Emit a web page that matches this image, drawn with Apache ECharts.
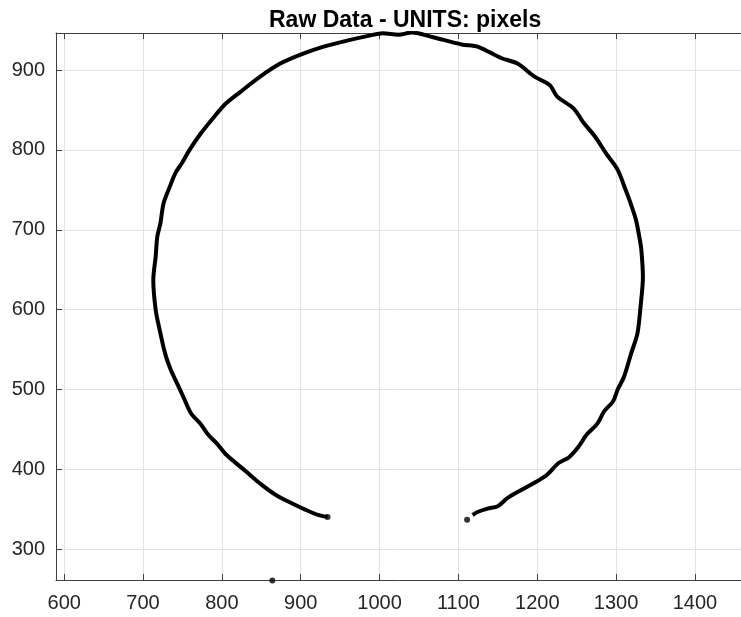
<!DOCTYPE html>
<html>
<head>
<meta charset="utf-8">
<script src="https://cdn.jsdelivr.net/npm/echarts@6/dist/echarts.min.js"></script>
<style>html,body{margin:0;padding:0;background:#fff;}#c{width:741px;height:617px;}</style>
</head>
<body>
<div id="c"></div>
<script>
const titleText = "Raw Data - UNITS: pixels";
const xRange = [589.6, 1458.4];
const yRange = [261.6, 946.3];
// traced curve (x, y) in pixels units of the original data
const curveX = [934, 922, 905, 888, 870, 849, 830, 806, 794, 783, 773, 761, 751, 743, 735, 728, 721, 716, 713, 714, 716, 718, 722, 726, 734, 741, 749, 759, 772, 789, 805, 824, 849, 874, 899, 928, 960, 987, 1004, 1024, 1041, 1068, 1104, 1125, 1154, 1175, 1196, 1216, 1225, 1246, 1258, 1273, 1287, 1302, 1312, 1317, 1325, 1330, 1332, 1334, 1331, 1327, 1319, 1310, 1302, 1296, 1285, 1276, 1263, 1252, 1240, 1227, 1212, 1196, 1179, 1162, 1150, 1137, 1125, 1118];
const curveY = [340.5, 343, 350, 358, 367, 382, 398, 418, 432, 443, 457, 470, 491, 508, 525, 545, 575, 600, 637, 650, 666, 691, 708, 733, 754, 771, 783, 800, 819, 840, 858, 873, 892, 908, 919, 929, 937, 943, 946, 944, 947, 941, 932, 929, 915, 908, 892, 881, 867, 852, 835, 817, 796, 775, 750, 737, 713, 688, 675, 641, 604, 570, 545, 516, 500, 485, 473, 457, 444, 428, 415, 408, 393, 383, 374, 364, 354, 351, 347, 343];
// isolated points
const dotX = [934, 1111, 864];
const dotY = [340.5, 337, 261];

const curve = curveX.map((x, i) => [x, curveY[i]]);
const dots = dotX.map((x, i) => [x, dotY[i]]);

const tickFont = {fontFamily: 'Liberation Sans, Arial, sans-serif', fontSize: 20, color: '#262626'};
const fmt = v => (Math.abs(v % 100) < 1e-6 ? String(v) : '');

const chart = echarts.init(document.getElementById('c'), null, {renderer: 'canvas'});
chart.setOption({
  animation: false,
  backgroundColor: '#ffffff',
  title: {
    text: titleText,
    left: 264, top: 4,
    textStyle: {fontFamily: 'Liberation Sans, Arial, sans-serif', fontWeight: 'bold', fontSize: 23, color: '#000'}
  },
  grid: {left: 56, top: 33, width: 694, height: 547, containLabel: false},
  xAxis: [{
    type: 'value', min: xRange[0], max: xRange[1], splitNumber: 9,
    axisLine: {show: true, onZero: false, lineStyle: {color: '#404040', width: 1}},
    axisTick: {show: true, inside: true, length: 6, lineStyle: {color: '#404040'}},
    axisLabel: Object.assign({margin: 13, formatter: fmt, showMinLabel: false, showMaxLabel: false}, tickFont),
    splitLine: {show: true, lineStyle: {color: '#e3e3e3', width: 1}}
  }, {
    type: 'value', position: 'top', min: xRange[0], max: xRange[1], splitNumber: 9,
    axisLine: {show: true, onZero: false, lineStyle: {color: '#404040', width: 1}},
    axisTick: {show: true, inside: true, length: 6, lineStyle: {color: '#404040'}},
    axisLabel: {show: false},
    splitLine: {show: false}
  }],
  yAxis: [{
    type: 'value', min: yRange[0], max: yRange[1], splitNumber: 8,
    axisLine: {show: true, onZero: false, lineStyle: {color: '#404040', width: 1}},
    axisTick: {show: true, inside: true, length: 6, lineStyle: {color: '#404040'}},
    axisLabel: Object.assign({margin: 11, formatter: fmt, showMinLabel: false, showMaxLabel: false}, tickFont),
    splitLine: {show: true, lineStyle: {color: '#e3e3e3', width: 1}}
  }],
  series: [{
    type: 'line', data: curve, showSymbol: false, smooth: 0.3,
    lineStyle: {color: '#000', width: 4}, xAxisIndex: 0, yAxisIndex: 0
  }, {
    type: 'scatter', data: dots, symbolSize: 6, clip: false,
    itemStyle: {color: '#000'}, xAxisIndex: 0, yAxisIndex: 0
  }]
});
</script>
</body>
</html>
